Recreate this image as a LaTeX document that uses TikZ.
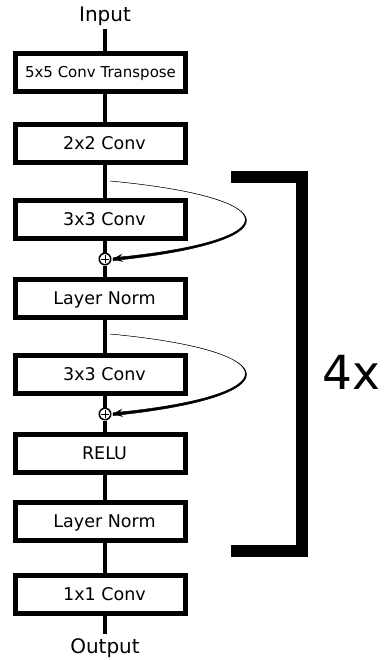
\documentclass[tikz,border=0pt]{standalone}
\usepackage{fontspec}
\setmainfont{DejaVu Sans}
\usetikzlibrary{arrows.meta,calc}
\begin{document}
\begin{tikzpicture}[x=1pt,y=-1pt,
  boxbase/.style={draw, line width=5pt, minimum width=170pt, minimum height=38pt,
    inner sep=0pt, text depth=0pt},
  box/.style={boxbase, font=\fontsize{17.5}{20}\selectfont,
    text height=12.8pt, execute at begin node=\hspace*{8pt}},
  smallbox/.style={boxbase, font=\fontsize{15}{18}\selectfont, text height=11pt},
  io/.style={font=\fontsize{20}{24}\selectfont, inner sep=3pt},
  trunk/.style={line width=4.5pt},
  sumnode/.style={circle, draw, line width=1.5pt, fill=white, minimum size=11.5pt,
    inner sep=0pt,
    path picture={\draw[line width=0.9pt]
      ([xshift=-4pt]path picture bounding box.center) -- ([xshift=4pt]path picture bounding box.center)
      ([yshift=-4pt]path picture bounding box.center) -- ([yshift=4pt]path picture bounding box.center);}},
  skipfill/.style={fill=black, draw=black, line width=0.5pt},
  skiptip/.style={line width=2pt, -{Stealth[length=10pt,width=8pt]}},
  bracket/.style={line width=11.5pt, miter limit=10}
]
\useasboundingbox (0,0) rectangle (383,660);
\fill[white] (0,0) rectangle (383,660);

% main column axis
\coordinate (axis) at (105,0);

% labels and layers
\node[io, anchor=base] (in) at (105,22) {Input};
\node[smallbox] (b1) at (100.5,72.5) {5x5 Conv Transpose};
\node[box] (b2) at (100.5,143.5) {2x2 Conv};
\node[box] (b3) at (100.5,219.5) {3x3 Conv};
\node[sumnode] (sum1) at (105,259) {};
\node[box] (b4) at (100.5,298.5) {Layer Norm};
\node[box] (b5) at (100.5,374.5) {3x3 Conv};
\node[sumnode] (sum2) at (105,414) {};
\node[box] (b6) at (100.5,453.5) {RELU};
\node[box] (b7) at (100.5,521.5) {Layer Norm};
\node[box] (b8) at (100.5,594.5) {1x1 Conv};
\node[io, anchor=north, inner sep=4pt] (out) at (105,634) {Output};

% trunk connections
\draw[trunk] (in.south -| axis) -- (b1.north -| axis);
\draw[trunk] (b1.south -| axis) -- (b2.north -| axis);
\draw[trunk] (b2.south -| axis) -- (b3.north -| axis);
\draw[trunk] (b3.south -| axis) -- (sum1.north);
\draw[trunk] (sum1.south) -- (b4.north -| axis);
\draw[trunk] (b4.south -| axis) -- (b5.north -| axis);
\draw[trunk] (b5.south -| axis) -- (sum2.north);
\draw[trunk] (sum2.south) -- (b6.north -| axis);
\draw[trunk] (b6.south -| axis) -- (b7.north -| axis);
\draw[trunk] (b7.south -| axis) -- (b8.north -| axis);
\draw[trunk] (b8.south -| axis) -- (out.north);

% residual skips: tapered curve from the trunk back into the sum
\coordinate (s1) at (110,181);
\coordinate (e1) at ([xshift=1.5pt,yshift=1.2pt]sum1.east);
\coordinate (e1b) at ([xshift=1.5pt,yshift=-1.6pt]sum1.east);
\filldraw[skipfill] (s1) .. controls +(180,17) and +(177,-17) .. (e1)
  -- (e1b) .. controls +(179,-18.5) and +(180.8,17) .. (s1) -- cycle;
\draw[skiptip] ([xshift=14pt,yshift=1.5pt]sum1.east) -- ([xshift=1pt]sum1.east);

\coordinate (s2) at (110,334);
\coordinate (e2) at ([xshift=1.5pt,yshift=1.2pt]sum2.east);
\coordinate (e2b) at ([xshift=1.5pt,yshift=-1.6pt]sum2.east);
\filldraw[skipfill] (s2) .. controls +(180,17) and +(177,-17) .. (e2)
  -- (e2b) .. controls +(179,-18.5) and +(180.8,17) .. (s2) -- cycle;
\draw[skiptip] ([xshift=14pt,yshift=1.5pt]sum2.east) -- ([xshift=1pt]sum2.east);

% repeat bracket
\coordinate (bt) at (231,177);
\coordinate (bb) at (231,551);
\draw[bracket] (bt) -- (302,177) -- (302,551) -- (bb);
\node[font=\fontsize{47}{50}\selectfont, inner sep=0pt] (rep) at (351,372) {4x};
\end{tikzpicture}
\end{document}
